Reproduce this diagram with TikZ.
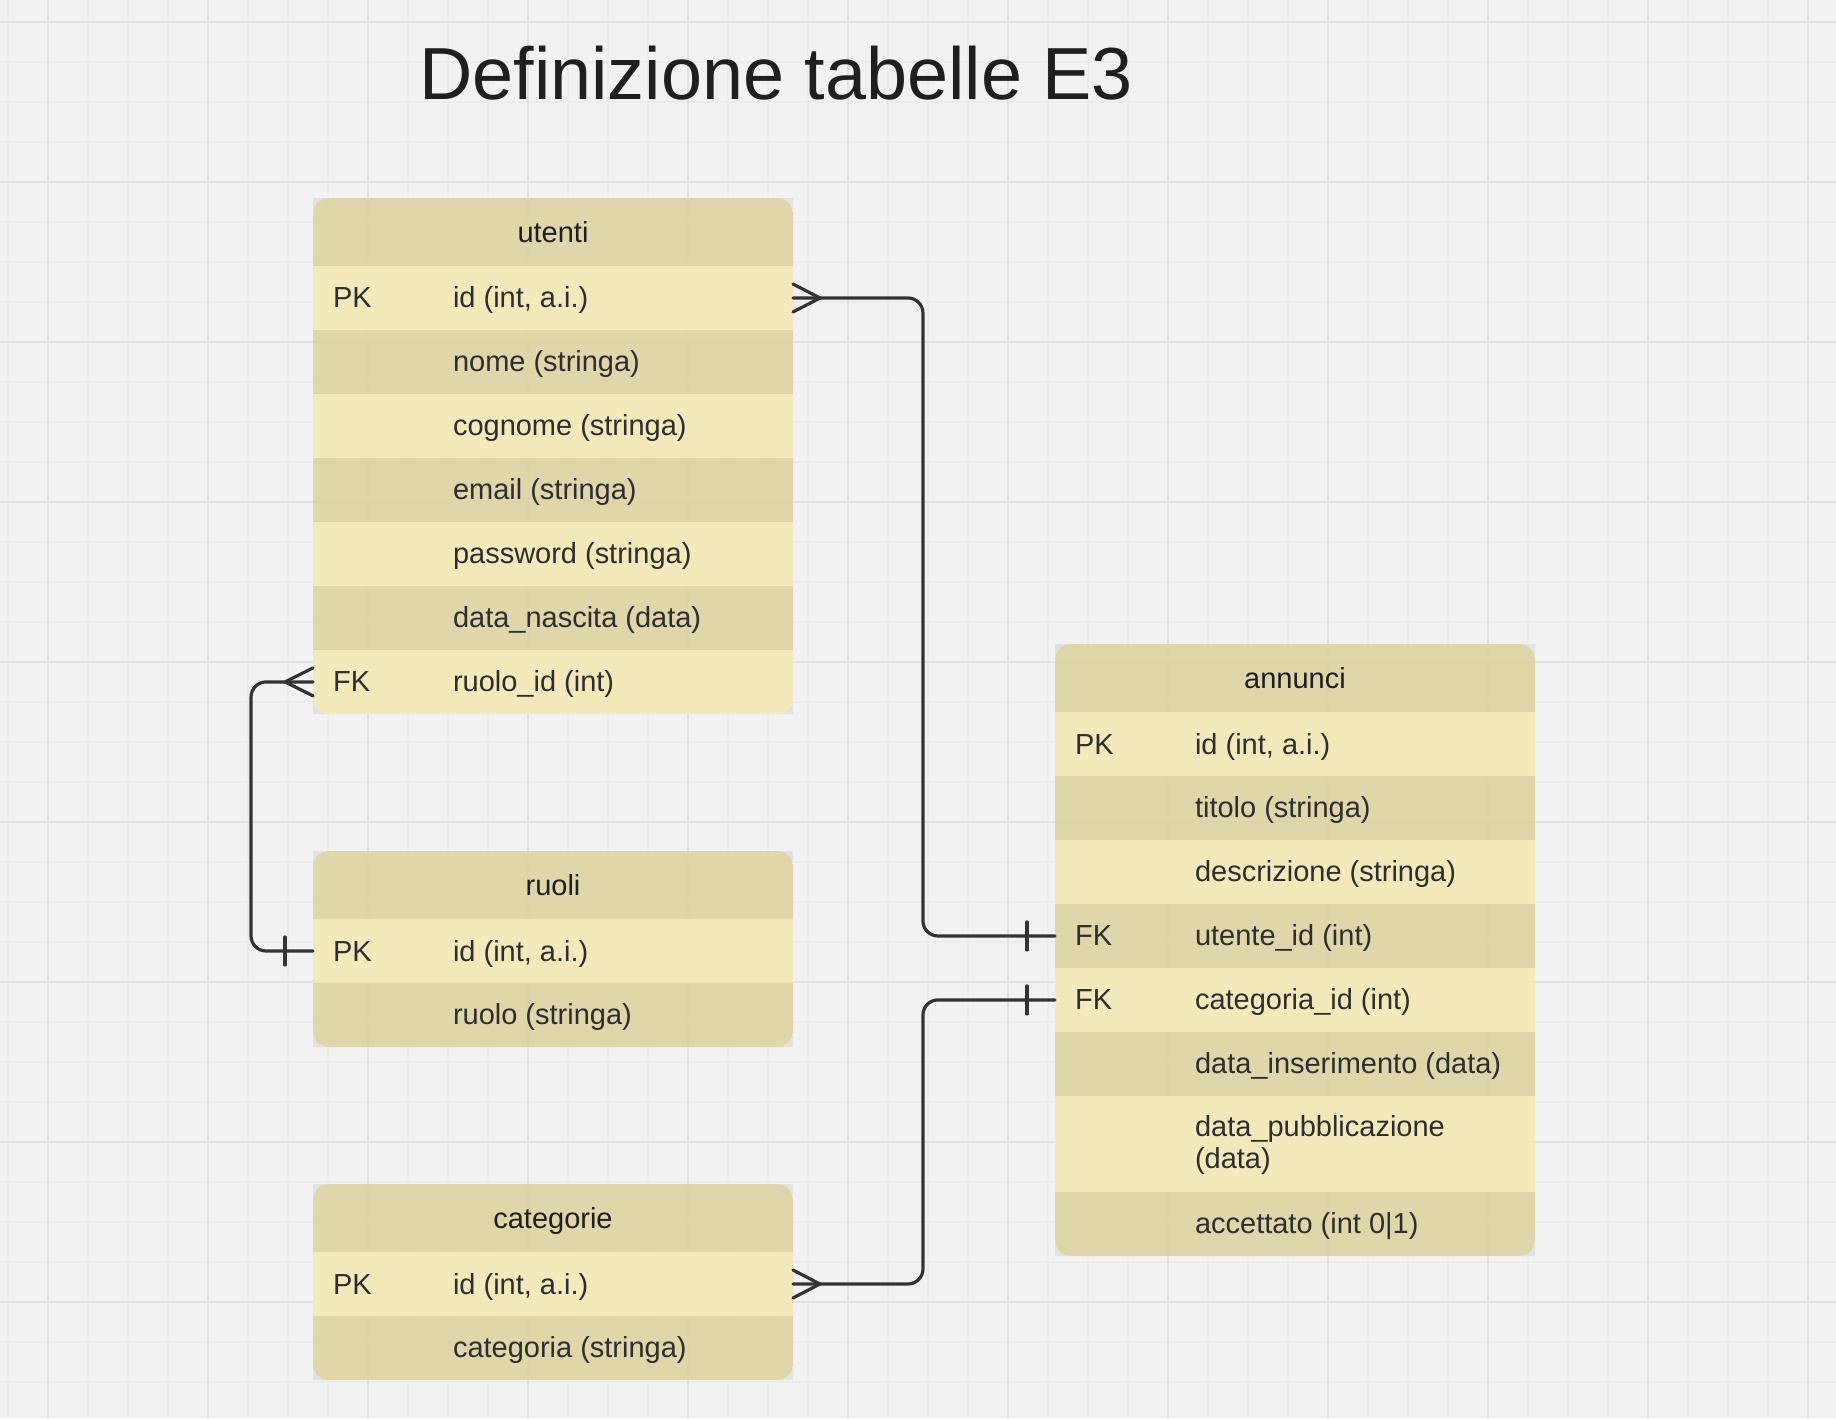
\documentclass[tikz,border=0pt]{standalone}
\usepackage{fontspec}
\setmainfont{Liberation Sans}
\usepackage{tikz}
\usetikzlibrary{positioning, calc}

\definecolor{bgcol}{HTML}{F2F2F2}
\definecolor{gridmin}{HTML}{ECECEC}
\definecolor{gridmaj}{HTML}{E1E1E1}
\definecolor{hdrcol}{HTML}{DDD3A2}
\definecolor{litecol}{HTML}{F5E9B5}
\definecolor{edgecol}{HTML}{E2E2E2}
\definecolor{linecol}{HTML}{333333}
\definecolor{txtcol}{HTML}{2E2E2E}

\tikzset{
  tabrow/.style={rectangle, minimum width=9.6cm, minimum height=1.28cm, inner sep=0pt, outer sep=0pt,
    fill opacity=0.9, text opacity=1, font=\fontsize{16.5pt}{18pt}\selectfont},
  hdrrow/.style={tabrow, minimum height=1.36cm, fill=hdrcol, text=black!88, text height=0.5cm, text depth=0.1cm},
  dkrow/.style={tabrow, fill=hdrcol},
  ltrow/.style={tabrow, fill=litecol},
  lbl/.style={inner sep=0pt, outer sep=0pt, text=txtcol, text height=0.5cm, text depth=0.1cm,
    font=\fontsize{16.5pt}{18pt}\selectfont},
  rel/.style={draw=linecol, line width=0.064cm, line cap=round, rounded corners=0.3cm},
  crow/.style={draw=linecol, line width=0.064cm, line cap=round, sharp corners},
  headline/.style={inner sep=0pt, text=black!88, font=\fontsize{42pt}{48pt}\selectfont}
}

\begin{document}
\begin{tikzpicture}[x=0.02cm, y=-0.02cm]
  \useasboundingbox (0,0) rectangle (1836,1418);
  \fill[bgcol] (0,0) rectangle (1836,1418);
  % grid
  \foreach \gx in {8,48,...,1828} \draw[gridmin, line width=0.025cm] (\gx,0) -- (\gx,1418);
  \foreach \gy in {22,62,...,1402} \draw[gridmin, line width=0.025cm] (0,\gy) -- (1836,\gy);
  \foreach \gx in {48,208,...,1808} \draw[gridmaj, line width=0.04cm] (\gx,0) -- (\gx,1418);
  \foreach \gy in {22,182,...,1302} \draw[gridmaj, line width=0.04cm] (0,\gy) -- (1836,\gy);

  % utenti
  \fill[edgecol, even odd rule] (313,198) rectangle (793,714) [rounded corners=0.32cm] (313,198) rectangle (793,714);
  \begin{scope}
    \clip[rounded corners=0.32cm] (313,198) rectangle (793,714);
    \node[hdrrow] (ut) at (553,232) {utenti};
    \node[ltrow, below=0pt of ut] (u1) {};
    \node[dkrow, below=0pt of u1] (u2) {};
    \node[ltrow, below=0pt of u2] (u3) {};
    \node[dkrow, below=0pt of u3] (u4) {};
    \node[ltrow, below=0pt of u4] (u5) {};
    \node[dkrow, below=0pt of u5] (u6) {};
    \node[ltrow, below=0pt of u6] (u7) {};
  \end{scope}
  \node[lbl, right=0.4cm of u1.west] (u1k) {PK};
  \node[lbl, right=2.8cm of u1.west] (u1f) {id (int, a.i.)};
  \node[lbl, right=2.8cm of u2.west] (u2f) {nome (stringa)};
  \node[lbl, right=2.8cm of u3.west] (u3f) {cognome (stringa)};
  \node[lbl, right=2.8cm of u4.west] (u4f) {email (stringa)};
  \node[lbl, right=2.8cm of u5.west] (u5f) {password (stringa)};
  \node[lbl, right=2.8cm of u6.west] (u6f) {data\_nascita (data)};
  \node[lbl, right=0.4cm of u7.west] (u7k) {FK};
  \node[lbl, right=2.8cm of u7.west] (u7f) {ruolo\_id (int)};

  % ruoli
  \fill[edgecol, even odd rule] (313,851) rectangle (793,1047) [rounded corners=0.32cm] (313,851) rectangle (793,1047);
  \begin{scope}
    \clip[rounded corners=0.32cm] (313,851) rectangle (793,1047);
    \node[hdrrow] (ro) at (553,885) {ruoli};
    \node[ltrow, below=0pt of ro] (r1) {};
    \node[dkrow, below=0pt of r1] (r2) {};
  \end{scope}
  \node[lbl, right=0.4cm of r1.west] (r1k) {PK};
  \node[lbl, right=2.8cm of r1.west] (r1f) {id (int, a.i.)};
  \node[lbl, right=2.8cm of r2.west] (r2f) {ruolo (stringa)};

  % categorie
  \fill[edgecol, even odd rule] (313,1184) rectangle (793,1380) [rounded corners=0.32cm] (313,1184) rectangle (793,1380);
  \begin{scope}
    \clip[rounded corners=0.32cm] (313,1184) rectangle (793,1380);
    \node[hdrrow] (ca) at (553,1218) {categorie};
    \node[ltrow, below=0pt of ca] (c1) {};
    \node[dkrow, below=0pt of c1] (c2) {};
  \end{scope}
  \node[lbl, right=0.4cm of c1.west] (c1k) {PK};
  \node[lbl, right=2.8cm of c1.west] (c1f) {id (int, a.i.)};
  \node[lbl, right=2.8cm of c2.west] (c2f) {categoria (stringa)};

  % annunci
  \fill[edgecol, even odd rule] (1055,644) rectangle (1535,1256) [rounded corners=0.32cm] (1055,644) rectangle (1535,1256);
  \begin{scope}
    \clip[rounded corners=0.32cm] (1055,644) rectangle (1535,1256);
    \node[hdrrow] (an) at (1295,678) {annunci};
    \node[ltrow, below=0pt of an] (a1) {};
    \node[dkrow, below=0pt of a1] (a2) {};
    \node[ltrow, below=0pt of a2] (a3) {};
    \node[dkrow, below=0pt of a3] (a4) {};
    \node[ltrow, below=0pt of a4] (a5) {};
    \node[dkrow, below=0pt of a5] (a6) {};
    \node[ltrow, minimum height=1.92cm, below=0pt of a6] (a7) {};
    \node[dkrow, below=0pt of a7] (a8) {};
  \end{scope}
  \node[lbl, right=0.4cm of a1.west] (a1k) {PK};
  \node[lbl, right=2.8cm of a1.west] (a1f) {id (int, a.i.)};
  \node[lbl, right=2.8cm of a2.west] (a2f) {titolo (stringa)};
  \node[lbl, right=2.8cm of a3.west] (a3f) {descrizione (stringa)};
  \node[lbl, right=0.4cm of a4.west] (a4k) {FK};
  \node[lbl, right=2.8cm of a4.west] (a4f) {utente\_id (int)};
  \node[lbl, right=0.4cm of a5.west] (a5k) {FK};
  \node[lbl, right=2.8cm of a5.west] (a5f) {categoria\_id (int)};
  \node[lbl, right=2.8cm of a6.west] (a6f) {data\_inserimento (data)};
  \node[lbl, right=2.8cm of a7.west, yshift=0.34cm] (a7f) {data\_pubblicazione};
  \node[lbl, right=2.8cm of a7.west, yshift=-0.3cm] (a7g) {(data)};
  \node[lbl, right=2.8cm of a8.west] (a8f) {accettato (int 0|1)};

  % relazioni
  \draw[rel] (u1.east) -- ($(u1.east)+(130,0)$) |- (a4.west);
  \draw[crow] (u1.east) ++(0,-14) -- ++(27,14) -- ++(-27,14);
  \draw[crow] (a4.west) ++(-28,-14) -- ++(0,28);

  \draw[rel] (r1.west) -- ($(r1.west)+(-62,0)$) |- (u7.west);
  \draw[crow] (u7.west) ++(0,-14) -- ++(-28,14) -- ++(28,14);
  \draw[crow] (r1.west) ++(-28,-14) -- ++(0,28);

  \draw[rel] (c1.east) -- ($(c1.east)+(130,0)$) |- (a5.west);
  \draw[crow] (c1.east) ++(0,-14) -- ++(27,14) -- ++(-27,14);
  \draw[crow] (a5.west) ++(-28,-14) -- ++(0,28);

  \node[headline, anchor=base west] (ttl) at (419,99) {Definizione tabelle E3};
\end{tikzpicture}
\end{document}
